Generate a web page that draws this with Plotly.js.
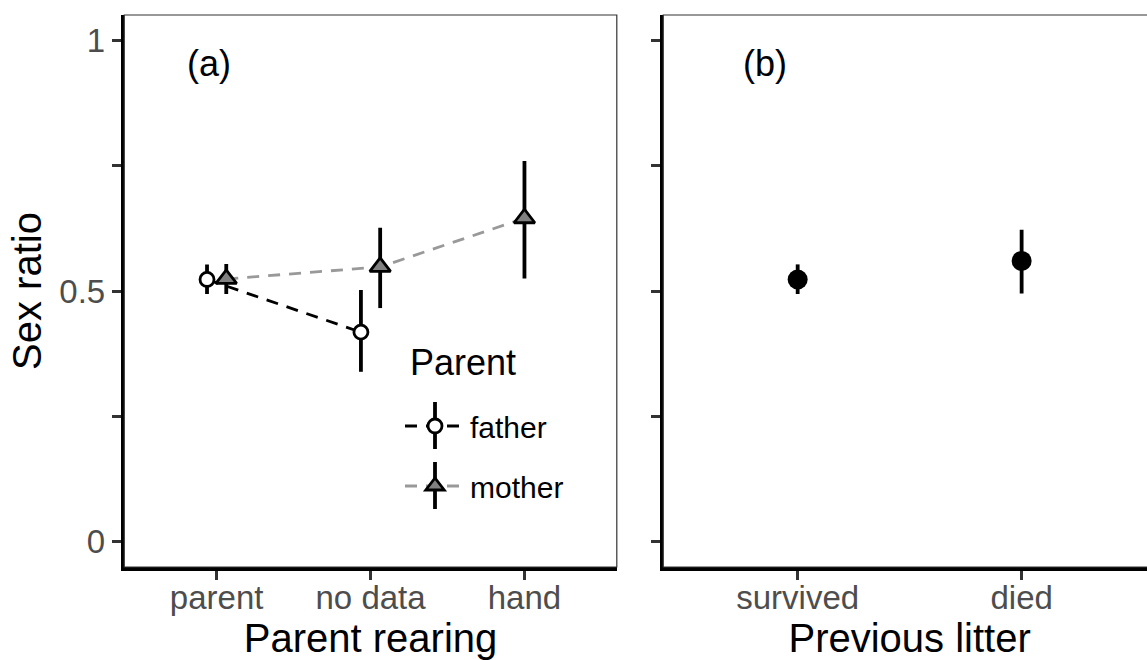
<!DOCTYPE html>
<html>
<head>
<meta charset="utf-8">
<script src="https://cdn.plot.ly/plotly-3.0.1.min.js"></script>
<style>
  html, body { margin: 0; padding: 0; overflow: hidden; background: #fff; }
  #chart { width: 1160px; height: 660px; }
</style>
</head>
<body>
<div id="chart"></div>
<script>
// ---- data ----
const rearingCategories = ['parent', 'no data', 'hand'];
const fatherMean = [0.523, 0.418, null];
const fatherLow  = [0.494, 0.339, null];
const fatherHigh = [0.553, 0.502, null];
const motherMean = [0.524, 0.548, 0.645];
const motherLow  = [0.494, 0.466, 0.525];
const motherHigh = [0.554, 0.626, 0.759];

const litterCategories = ['survived', 'died'];
const litterMean = [0.523, 0.560];
const litterLow  = [0.494, 0.495];
const litterHigh = [0.553, 0.622];

const yTickVals = [0, 0.25, 0.5, 0.75, 1];
const yTickText = ['0', '', '0.5', '', '1'];
const seriesNames = ['father', 'mother'];
const legendTitle = 'Parent';
const panelLabels = ['(a)', '(b)'];
const axisTitles = ['Parent rearing', 'Previous litter', 'Sex ratio'];

// ---- build traces ----
const DODGE = 0.0625;
function dodged(mean, other, sign) {
  const x = [], y = [];
  mean.forEach((v, i) => {
    if (v === null) return;
    const off = (other[i] === null) ? 0 : sign * DODGE;
    x.push(i + 1 + off); y.push(v);
  });
  return { x, y };
}
function errs(mean, low, high) {
  const p = [], m = [];
  mean.forEach((v, i) => { if (v !== null) { p.push(high[i] - v); m.push(v - low[i]); } });
  return { p, m };
}

const fD = dodged(fatherMean, motherMean, -1), fE = errs(fatherMean, fatherLow, fatherHigh);
const mD = dodged(motherMean, fatherMean, +1), mE = errs(motherMean, motherLow, motherHigh);

const FONT = '"Liberation Sans", Arial, "DejaVu Sans", sans-serif';
const ERR_W = 3.8;

const traces = [
  {
    name: seriesNames[0], legendgroup: 'f',
    x: fD.x, y: fD.y, xaxis: 'x', yaxis: 'y',
    type: 'scatter', mode: 'lines+markers',
    line: { color: '#000000', width: 2.8, dash: '12px,9px' },
    marker: { symbol: 'circle', size: 14, color: '#ffffff', line: { color: '#000000', width: 2.8 } },
    error_y: { type: 'data', symmetric: false, array: fE.p, arrayminus: fE.m, color: '#000000', thickness: ERR_W, width: 0 }
  },
  {
    name: seriesNames[1], legendgroup: 'm',
    x: mD.x, y: mD.y, xaxis: 'x', yaxis: 'y',
    type: 'scatter', mode: 'lines+markers',
    line: { color: '#999999', width: 2.8, dash: '12px,9px' },
    marker: { symbol: 'triangle-up', size: 18, color: '#808080', line: { color: '#000000', width: 2.8 } },
    error_y: { type: 'data', symmetric: false, array: mE.p, arrayminus: mE.m, color: '#000000', thickness: ERR_W, width: 0 }
  },
  {
    name: 'litter', showlegend: false,
    x: litterCategories.map((c, i) => i + 1), y: litterMean, xaxis: 'x2', yaxis: 'y2',
    type: 'scatter', mode: 'markers',
    marker: { symbol: 'circle', size: 20, color: '#000000' },
    error_y: { type: 'data', symmetric: false,
      array: litterMean.map((v, i) => litterHigh[i] - v),
      arrayminus: litterMean.map((v, i) => v - litterLow[i]),
      color: '#000000', thickness: ERR_W, width: 0 }
  }
];

const W = 1160, TOP = 15, PH = 552;
const domA = [124.3 / W, 616.8 / W];
const domB = [663.3 / W, 1156 / W];
const py = (pix) => 1 - (pix - TOP) / PH;   // pixel row -> paper y (layout helper)

function xAxis(dom, cats, title) {
  return {
    domain: dom, range: [0.4, cats.length + 0.6],
    tickmode: 'array', tickvals: cats.map((c, i) => i + 1), ticktext: cats,
    ticks: 'outside', ticklen: 9, tickwidth: 3, tickcolor: '#333333',
    ticklabelstandoff: -10,
    tickfont: { family: FONT, size: 33, color: '#4d4d4d' },
    showline: true, linecolor: '#000000', linewidth: 3.5, mirror: false,
    showgrid: false, zeroline: false, fixedrange: true,
    title: { text: title, font: { family: FONT, size: 40, color: '#000000' }, standoff: 8 }
  };
}
function yAxis(anchor, labels, title) {
  const ax = {
    anchor: anchor, domain: [0, 1], range: [-0.05, 1.05],
    tickmode: 'array', tickvals: yTickVals, ticktext: yTickText,
    ticks: 'outside', ticklen: 9, tickwidth: 3, tickcolor: '#333333',
    showticklabels: labels,
    tickfont: { family: FONT, size: 33, color: '#4d4d4d' },
    showline: true, linecolor: '#000000', linewidth: 3.5, mirror: false,
    showgrid: false, zeroline: false, fixedrange: true
  };
  if (title) ax.title = { text: title, font: { family: FONT, size: 40, color: '#000000' }, standoff: 6 };
  return ax;
}

const LEG_X = 400;
const layout = {
  width: W, height: 660,
  margin: { l: 0, r: 0, t: TOP, b: 93, pad: 0 },
  paper_bgcolor: '#ffffff', plot_bgcolor: '#ffffff',
  font: { family: FONT, color: '#000000' },
  xaxis: xAxis(domA, rearingCategories, axisTitles[0]),
  yaxis: yAxis('x', true, axisTitles[2]),
  xaxis2: xAxis(domB, litterCategories, axisTitles[1]),
  yaxis2: yAxis('x2', false, null),
  showlegend: true,
  legend: {
    x: LEG_X / W, y: py(400), xanchor: 'left', yanchor: 'top',
    bgcolor: 'rgba(0,0,0,0)', borderwidth: 0,
    font: { family: FONT, size: 30, color: '#000000' },
    traceorder: 'grouped', tracegroupgap: 18, itemwidth: 60
  },
  shapes: [
    { type: 'rect', xref: 'x domain', yref: 'y domain', x0: 0, x1: 1, y0: 0, y1: 1,
      line: { color: '#333333', width: 1.2 }, layer: 'above' },
    { type: 'rect', xref: 'x2 domain', yref: 'y2 domain', x0: 0, x1: 1, y0: 0, y1: 1,
      line: { color: '#333333', width: 1.2 }, layer: 'above' },
    // error-bar glyphs of the legend keys
    { type: 'line', xref: 'paper', yref: 'paper', x0: 435 / W, x1: 435 / W, y0: py(402), y1: py(449),
      line: { color: '#000000', width: ERR_W }, layer: 'above' },
    { type: 'line', xref: 'paper', yref: 'paper', x0: 435 / W, x1: 435 / W, y0: py(462), y1: py(509),
      line: { color: '#000000', width: ERR_W }, layer: 'above' }
  ],
  annotations: [
    { text: panelLabels[0], xref: 'x domain', yref: 'y domain', x: 0.172, y: 0.912,
      xanchor: 'center', yanchor: 'middle', showarrow: false,
      font: { family: FONT, size: 36, color: '#000000' } },
    { text: panelLabels[1], xref: 'x2 domain', yref: 'y2 domain', x: 0.206, y: 0.912,
      xanchor: 'center', yanchor: 'middle', showarrow: false,
      font: { family: FONT, size: 36, color: '#000000' } },
    { text: legendTitle, xref: 'paper', yref: 'paper', x: 408 / W, y: py(362),
      xanchor: 'left', yanchor: 'middle', showarrow: false,
      font: { family: FONT, size: 36, color: '#000000' } }
  ]
};

Plotly.newPlot('chart', traces, layout, { staticPlot: true, displayModeBar: false });
</script>
</body>
</html>
